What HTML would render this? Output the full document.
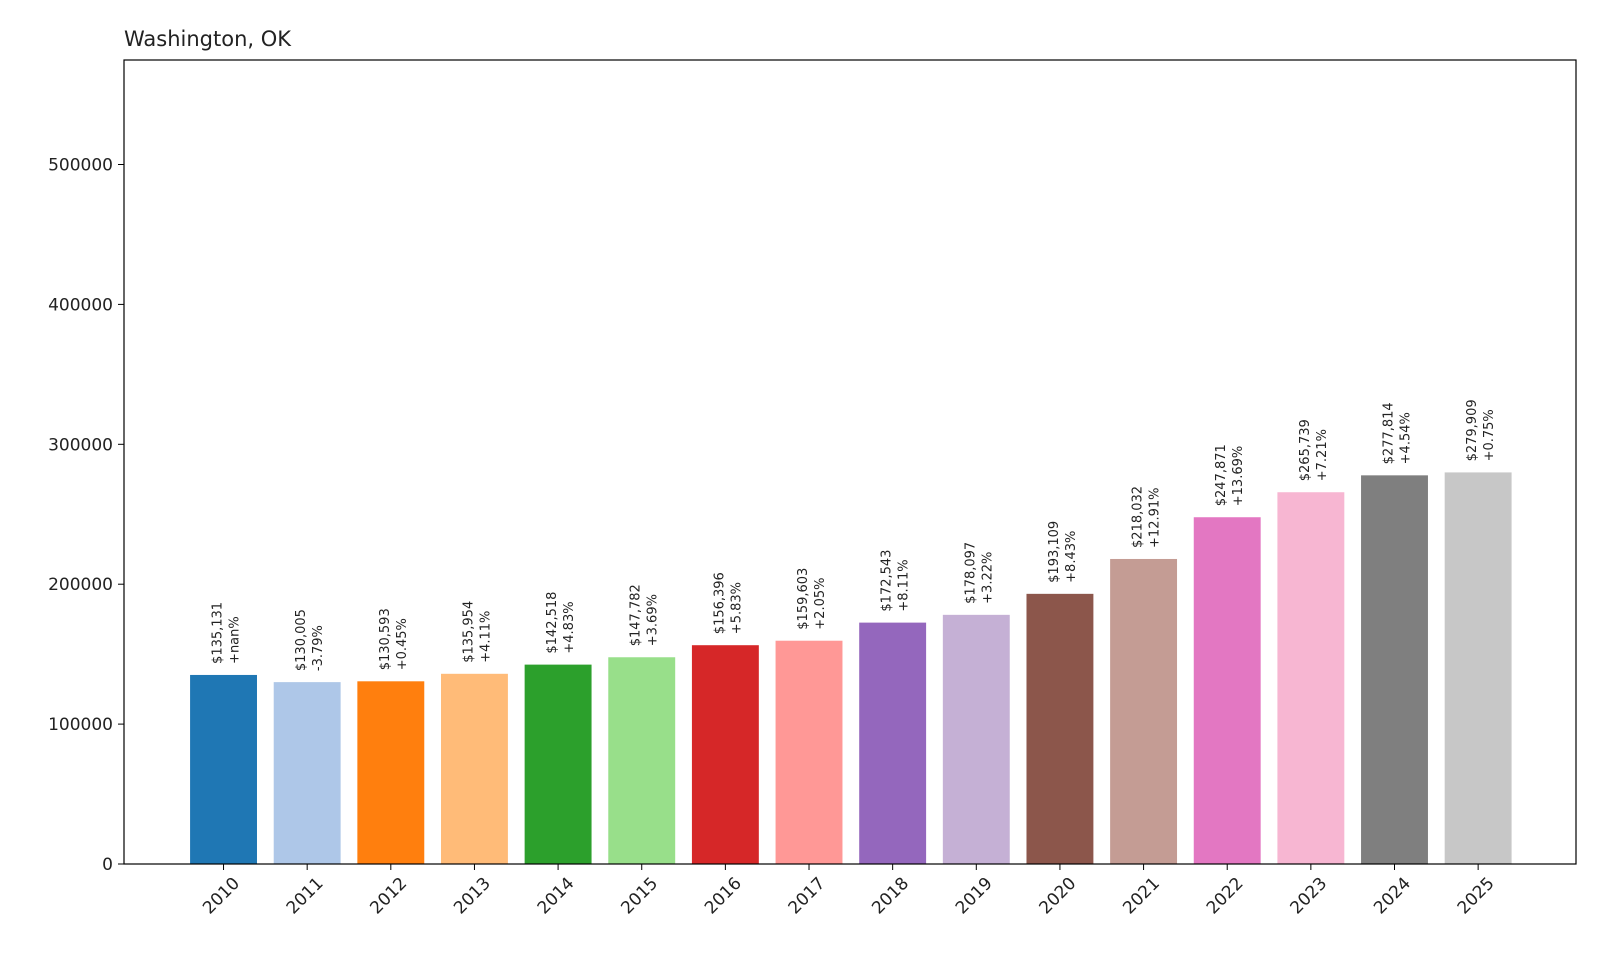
<!DOCTYPE html>
<html><head><meta charset="utf-8"><style>
body{margin:0;background:#fff;}
svg text{font-family:"DejaVu Sans","Liberation Sans",sans-serif;fill:#222;}
</style></head><body>
<svg id="chart" width="1600" height="960" xmlns="http://www.w3.org/2000/svg">
<rect width="1600" height="960" fill="#fff"/>
<text x="124" y="46" font-size="21">Washington, OK</text>
<g id="bars"></g>
<g id="yaxis"></g>
<g id="xaxis"></g>
<rect x="124" y="60" width="1452" height="804" fill="none" stroke="#000" stroke-width="1.2"/>
</svg>
<script>
const years = ["2010","2011","2012","2013","2014","2015","2016","2017","2018","2019","2020","2021","2022","2023","2024","2025"];
const values = [135131,130005,130593,135954,142518,147782,156396,159603,172543,178097,193109,218032,247871,265739,277814,279909];
const changes = ["+nan%","-3.79%","+0.45%","+4.11%","+4.83%","+3.69%","+5.83%","+2.05%","+8.11%","+3.22%","+8.43%","+12.91%","+13.69%","+7.21%","+4.54%","+0.75%"];
const yTicks = [0,100000,200000,300000,400000,500000];
const colors = ["#1f77b4","#aec7e8","#ff7f0e","#ffbb78","#2ca02c","#98df8a","#d62728","#ff9896","#9467bd","#c5b0d5","#8c564b","#c49c94","#e377c2","#f7b6d2","#7f7f7f","#c7c7c7"];
const NS="http://www.w3.org/2000/svg";
const L=124,R=1576,T=60,B=864;
const xmin=-1.19,xmax=16.17,ymax=574700;
const xs=i=>L+(i-xmin)/(xmax-xmin)*(R-L);
const ys=v=>B-v/ymax*(B-T);
const bw=0.8*(xs(1)-xs(0));
function mk(tag,attrs,parent){const e=document.createElementNS(NS,tag);for(const k in attrs)e.setAttribute(k,attrs[k]);parent.appendChild(e);return e;}
const gb=document.getElementById('bars'),gx=document.getElementById('xaxis'),gy=document.getElementById('yaxis');
values.forEach((v,i)=>{
  const cx=xs(i),top=ys(v);
  const r=mk('rect',{x:cx-bw/2,y:top,width:bw,height:B-top,fill:colors[i]},gb);
  
  
  const t=mk('text',{transform:`translate(${cx},${top-11}) rotate(-90)`,'font-size':'13'},gb);
  
  
  const a=mk('tspan',{x:0,y:-2},t);a.textContent='$'+v.toLocaleString('en-US');
  const b=mk('tspan',{x:0,y:15},t);b.textContent=changes[i];
  const tk=mk('line',{x1:cx,x2:cx,y1:B,y2:B+6,stroke:'#000'},gx);
  
  
  const lt=mk('text',{transform:`translate(${cx-2},${B+32}) rotate(-45)`,'text-anchor':'middle','dominant-baseline':'middle','font-size':'17'},gx);
  
  
  lt.textContent=years[i];
});
yTicks.forEach(v=>{
  const y=ys(v);
  const tk=mk('line',{x1:L-6,x2:L,y1:y,y2:y,stroke:'#000'},gy);
  
  
  const t=mk('text',{x:L-11,y:y+6,'text-anchor':'end','font-size':'17'},gy);
  
  
  t.textContent=v;
});
</script>
</body></html>
